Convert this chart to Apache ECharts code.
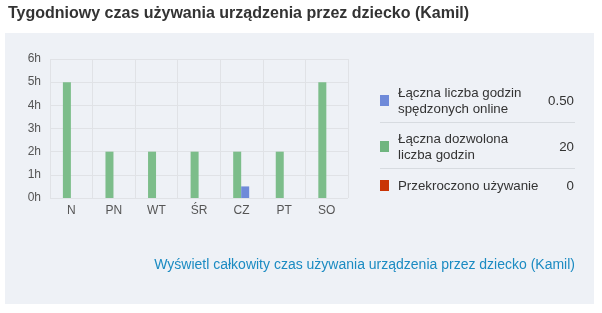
<!DOCTYPE html>
<html><head><meta charset="utf-8">
<script src="https://cdn.jsdelivr.net/npm/echarts@6/dist/echarts.min.js"></script>
<style>html,body{margin:0;padding:0;background:#fff}#c{width:602px;height:313px}</style>
</head><body><div id="c"></div>
<script>
const titleText = 'Tygodniowy czas używania urządzenia przez dziecko (Kamil)';
const linkText = 'Wyświetl całkowity czas używania urządzenia przez dziecko (Kamil)';
const days = ['N', 'PN', 'WT', 'ŚR', 'CZ', 'PT', 'SO'];
const allowedHours = [5, 2, 2, 2, 2, 2, 5];
const onlineHours = [0, 0, 0, 0, 0.5, 0, 0];
const exceededHours = [0, 0, 0, 0, 0, 0, 0];
const yTicks = [0, 1, 2, 3, 4, 5, 6];
const legendLabels = ['Łączna liczba godzin\nspędzonych online', 'Łączna dozwolona\nliczba godzin', 'Przekroczono używanie'];
const legendValues = ['0.50', '20', '0'];
const legendColors = ['#6f8ad9', '#6fb57f', '#c93405'];

const FONT = '"Liberation Sans", Arial, sans-serif';
const chart = echarts.init(document.getElementById('c'), null, {renderer: 'canvas'});

const legendY = [101, 147, 186];
const graphics = [
  {type: 'rect', z: -10, shape: {x: 5, y: 33, width: 589, height: 271}, style: {fill: '#eef1f6'}},
  {type: 'text', x: 8, y: 6, style: {text: titleText, font: 'bold 16px ' + FONT, fill: '#333'}},
  {type: 'text', x: 575, y: 258, style: {text: linkText, font: '14px ' + FONT, fill: '#1b8bc2', align: 'right'}}
];
legendLabels.forEach((lab, i) => {
  const cy = legendY[i];
  graphics.push({type: 'rect', shape: {x: 380, y: cy - 6, width: 9, height: 11}, style: {fill: legendColors[i]}});
  graphics.push({type: 'text', x: 398, y: cy, style: {text: lab, font: '13.3px ' + FONT, fill: '#333', verticalAlign: 'middle', lineHeight: 16}});
  graphics.push({type: 'text', x: 574, y: cy, style: {text: legendValues[i], font: '13.3px ' + FONT, fill: '#333', align: 'right', verticalAlign: 'middle'}});
});
[122, 168].forEach(y => graphics.push({type: 'line', shape: {x1: 380, y1: y + 0.5, x2: 575, y2: y + 0.5}, style: {stroke: '#d7dbe0', lineWidth: 1}}));

chart.setOption({
  animation: false,
  backgroundColor: '#fff',
  textStyle: {fontFamily: FONT},
  grid: {left: 50, top: 59, width: 298, height: 139, containLabel: false},
  xAxis: {
    type: 'category', data: days,
    axisLine: {show: false}, axisTick: {show: false},
    axisLabel: {color: '#555', fontSize: 12, margin: 7, fontFamily: FONT},
    splitLine: {show: true, interval: 0, lineStyle: {color: '#e0e2e6'}}
  },
  yAxis: {
    type: 'value', min: yTicks[0], max: yTicks[yTicks.length - 1], interval: 1,
    axisLine: {show: false}, axisTick: {show: false},
    axisLabel: {color: '#555', fontSize: 12, margin: 9, formatter: '{value}h', fontFamily: FONT},
    splitLine: {show: true, lineStyle: {color: '#e0e2e6'}}
  },
  series: [
    {name: 'allowed', type: 'bar', data: allowedHours, barWidth: 8, barGap: '0%', itemStyle: {color: '#7cbd8a'}},
    {name: 'online', type: 'bar', data: onlineHours, barWidth: 8, barGap: '0%', itemStyle: {color: '#6f8ad9'}},
    {name: 'exceeded', type: 'bar', data: exceededHours, barWidth: 0, barGap: '0%', itemStyle: {color: '#c93405'}}
  ],
  graphic: graphics
});
</script></body></html>
